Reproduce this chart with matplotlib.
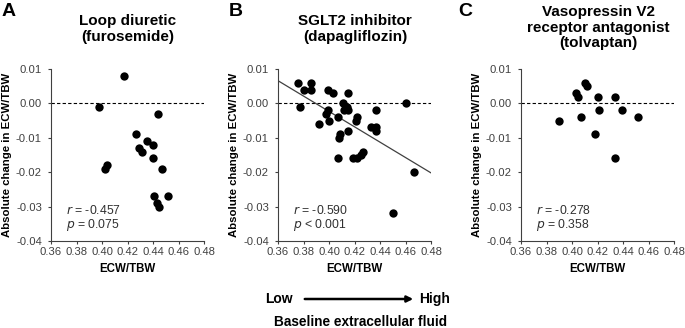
import matplotlib
matplotlib.use("Agg")
import matplotlib.pyplot as plt
import numpy as np

plt.rcParams['font.family'] = ['Liberation Sans', 'DejaVu Sans']

# ---- data ----
furo_x = [0.417, 0.398, 0.444, 0.427, 0.435, 0.440, 0.429, 0.431, 0.440, 0.447,
          0.404, 0.402, 0.441, 0.452, 0.443, 0.445]
furo_y = [0.008, -0.001, -0.003, -0.009, -0.011, -0.012, -0.013, -0.014, -0.016, -0.019,
          -0.018, -0.019, -0.027, -0.027, -0.029, -0.030]

dapa_x = [0.376, 0.380, 0.386, 0.386, 0.377, 0.399, 0.403, 0.415, 0.411, 0.414,
          0.412, 0.415, 0.399, 0.398, 0.400, 0.392, 0.407, 0.422, 0.421, 0.437,
          0.433, 0.437, 0.437, 0.415, 0.409, 0.408, 0.407, 0.419, 0.422, 0.425,
          0.427, 0.460, 0.467, 0.450]
dapa_y = [0.006, 0.004, 0.006, 0.004, -0.001, 0.004, 0.003, 0.003, 0.000, -0.001,
          -0.002, -0.002, -0.002, -0.003, -0.005, -0.006, -0.004, -0.004, -0.005, -0.002,
          -0.007, -0.007, -0.008, -0.008, -0.009, -0.010, -0.016, -0.016, -0.016, -0.015,
          -0.014, 0.000, -0.020, -0.032]
dapa_fit = (0.0066, -0.0202)   # regression line value at x = 0.36 and x = 0.48

tolv_x = [0.390, 0.403, 0.405, 0.410, 0.412, 0.407, 0.420, 0.421, 0.418, 0.434,
          0.439, 0.452, 0.434]
tolv_y = [-0.005, 0.003, 0.002, 0.006, 0.005, -0.004, 0.002, -0.002, -0.009, 0.002,
          -0.002, -0.004, -0.016]

letters = ["A", "B", "C"]
titles = ["Loop diuretic\n(furosemide)", "SGLT2 inhibitor\n(dapagliflozin)",
          "Vasopressin V2\nreceptor antagonist\n(tolvaptan)"]
stats = ["$r$ = -0.457\n$p$ = 0.075", "$r$ = -0.590\n$p$ < 0.001", "$r$ = -0.278\n$p$ = 0.358"]
xticks = [0.36, 0.38, 0.40, 0.42, 0.44, 0.46, 0.48]
yticks = [-0.04, -0.03, -0.02, -0.01, 0.00, 0.01]

W, H = 685, 328
fig = plt.figure(figsize=(W / 100, H / 100), dpi=100)

lefts = [51, 278, 521]
xs = [furo_x, dapa_x, tolv_x]
ys = [furo_y, dapa_y, tolv_y]
letter_x = [2, 229, 458]
tick_col = '#404040'

for i in range(3):
  ax = fig.add_axes([lefts[i] / W, (H - 241) / H, 153 / W, 172 / H])
  ax.scatter(xs[i], ys[i], s=36, color='black', zorder=3, linewidths=0)
  ax.axhline(0, color='black', lw=0.8, ls=(0, (3, 2)), zorder=1)
  if i == 1:
    ax.plot([0.36, 0.48], dapa_fit, color='#404040', lw=0.9, zorder=2)

  ax.set_xlim(0.36, 0.48)
  ax.set_ylim(-0.04, 0.01)
  ax.set_xticks(xticks)
  ax.set_xticklabels(["%.2f" % v for v in xticks])
  ax.set_yticks(yticks)
  ax.set_yticklabels(["%.2f" % v for v in yticks])
  ax.tick_params(labelsize=8.1, colors=tick_col, length=2.5, width=0.8, pad=2)
  ax.tick_params(axis='y', pad=4)
  for s in ['top', 'right']:
    ax.spines[s].set_visible(False)
  for s in ['left', 'bottom']:
    ax.spines[s].set_color('#404040')
    ax.spines[s].set_linewidth(0.8)

  ax.set_xlabel("ECW/TBW", fontsize=8.3, fontweight='bold', labelpad=4)
  ax.set_ylabel("Absolute change in ECW/TBW", fontsize=8.2, fontweight='bold', labelpad=3)

  ax.text(0.3715, -0.0335, stats[i], fontsize=8.8, color='#303030', va='center',
          linespacing=1.0)

  cx = (lefts[i] + 77) / W
  ax_title_top = 1 - 5 / H if i == 2 else 1 - 14 / H
  fig.text(cx, ax_title_top, titles[i], ha='center', va='top', fontsize=11,
           fontweight='bold', linespacing=1.15)
  fig.text(letter_x[i] / W, 1 - 3 / H, letters[i], ha='left', va='top',
           fontsize=14, fontweight='bold')

# bottom arrow legend
fig.text(279 / W, 1 - 299 / H, "Low", ha='center', va='center', fontsize=10, fontweight='bold')
fig.text(435 / W, 1 - 299 / H, "High", ha='center', va='center', fontsize=10, fontweight='bold')
fig.add_artist(matplotlib.patches.FancyArrowPatch(
  (302 / W, 1 - 299 / H), (416 / W, 1 - 299 / H), transform=fig.transFigure,
  arrowstyle='-|>', mutation_scale=9, color='black', lw=1.8))
fig.text(360 / W, 1 - 322 / H, "Baseline extracellular fluid", ha='center', va='center',
         fontsize=9.8, fontweight='bold')

fig.savefig("out.png", dpi=100)
